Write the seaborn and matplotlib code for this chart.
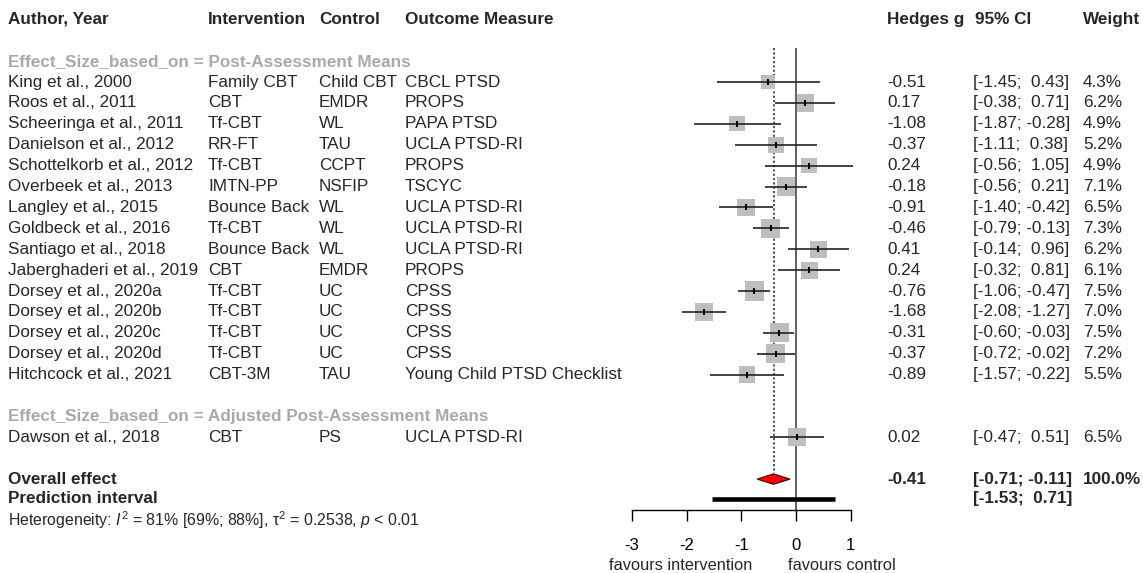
import numpy as np
import pandas as pd
import matplotlib
matplotlib.use("Agg")
import matplotlib.pyplot as plt
import seaborn as sns

# ---------------- data ----------------
authors = ["King et al., 2000", "Roos et al., 2011", "Scheeringa et al., 2011",
           "Danielson et al., 2012", "Schottelkorb et al., 2012", "Overbeek et al., 2013",
           "Langley et al., 2015", "Goldbeck et al., 2016", "Santiago et al., 2018",
           "Jaberghaderi et al., 2019", "Dorsey et al., 2020a", "Dorsey et al., 2020b",
           "Dorsey et al., 2020c", "Dorsey et al., 2020d", "Hitchcock et al., 2021",
           "Dawson et al., 2018"]
interventions = ["Family CBT", "CBT", "Tf-CBT", "RR-FT", "Tf-CBT", "IMTN-PP",
                 "Bounce Back", "Tf-CBT", "Bounce Back", "CBT", "Tf-CBT", "Tf-CBT",
                 "Tf-CBT", "Tf-CBT", "CBT-3M", "CBT"]
controls = ["Child CBT", "EMDR", "WL", "TAU", "CCPT", "NSFIP", "WL", "WL", "WL",
            "EMDR", "UC", "UC", "UC", "UC", "TAU", "PS"]
outcomes = ["CBCL PTSD", "PROPS", "PAPA PTSD", "UCLA PTSD-RI", "PROPS", "TSCYC",
            "UCLA PTSD-RI", "UCLA PTSD-RI", "UCLA PTSD-RI", "PROPS", "CPSS", "CPSS",
            "CPSS", "CPSS", "Young Child PTSD Checklist", "UCLA PTSD-RI"]
groups = [1] * 15 + [2]
hedges_g = [-0.51, 0.17, -1.08, -0.37, 0.24, -0.18, -0.91, -0.46, 0.41, 0.24,
            -0.76, -1.68, -0.31, -0.37, -0.89, 0.02]
ci_low = [-1.45, -0.38, -1.87, -1.11, -0.56, -0.56, -1.40, -0.79, -0.14, -0.32,
          -1.06, -2.08, -0.60, -0.72, -1.57, -0.47]
ci_high = [0.43, 0.71, -0.28, 0.38, 1.05, 0.21, -0.42, -0.13, 0.96, 0.81,
           -0.47, -1.27, -0.03, -0.02, -0.22, 0.51]
weights = [4.3, 6.2, 4.9, 5.2, 4.9, 7.1, 6.5, 7.3, 6.2, 6.1, 7.5, 7.0, 7.5, 7.2, 5.5, 6.5]

group_labels = ["Effect_Size_based_on = Post-Assessment Means",
                "Effect_Size_based_on = Adjusted Post-Assessment Means"]
overall_g = -0.41
overall_low = -0.71
overall_high = -0.11
overall_weight = "100.0%"
pred_low = -1.53
pred_high = 0.71
tick_values = [-3, -2, -1, 0, 1]
label_left = "favours intervention"
label_right = "favours control"
heterogeneity = r"Heterogeneity: $I^2$ = 81% [69%; 88%], τ$^2$ = 0.2538, $p$ < 0.01"
headers = ["Author, Year", "Intervention", "Control", "Outcome Measure",
           "Hedges g", "95% CI", "Weight"]

# ---------------- layout ----------------
W, H = 1143, 573
ROW0, DY = 82.0, 20.9          # pixel of first study row, row spacing
PX0, PPU = 796.0, 54.75        # pixel of x=0, pixels per unit
AX_BOTTOM_PX = 510.0


def row_of(px):
    return (px - ROW0) / DY


rows = []
r = 0
cur_group = groups[0]
group_rows = {1: -1}
for gi in groups:
    if gi != cur_group:
        r += 1
        group_rows[gi] = r
        r += 1
        cur_group = gi
    rows.append(r)
    r += 1
overall_row = r + 1
pred_row = overall_row + 0.95
het_row = pred_row + 1.0
header_row = -3

df = pd.DataFrame({"author": authors, "g": hedges_g, "lo": ci_low, "hi": ci_high,
                   "w": weights, "row": rows})

sns.set_theme(style="white")
plt.rcParams["font.family"] = ["Liberation Sans", "DejaVu Sans"]
plt.rcParams["mathtext.fontset"] = "custom"
plt.rcParams["mathtext.rm"] = "Liberation Sans"
plt.rcParams["mathtext.it"] = "Liberation Sans:italic"
plt.rcParams["mathtext.bf"] = "Liberation Sans:bold"

fig = plt.figure(figsize=(W / 100, H / 100), dpi=100)
fig.patch.set_facecolor("white")
ax = fig.add_axes([0, 1 - AX_BOTTOM_PX / H, 1, AX_BOTTOM_PX / H])
ax.set_facecolor("none")
ax.set_xlim(-PX0 / PPU, (W - PX0) / PPU)
ax.set_ylim(row_of(AX_BOTTOM_PX), row_of(0))

# squares (area proportional to weight)
k = 25.0
wmin, wmax = min(weights), max(weights)
sns.scatterplot(data=df, x="g", y="row", size="w", sizes=(k * wmin, k * wmax),
                size_norm=(wmin, wmax), marker="s", color="#BEBEBE", edgecolor="none",
                linewidth=0, legend=False, ax=ax, zorder=2)

# reference lines
ax.vlines(0, row_of(48), row_of(AX_BOTTOM_PX), color="#555555", lw=1.3, zorder=1)
ax.vlines(overall_g, row_of(48), overall_row - 0.27, color="#444444", lw=1.3,
          linestyles=(0, (1.2, 1.2)), zorder=1)

# CIs and points
ax.hlines(df["row"], df["lo"], df["hi"], color="#222222", lw=1.2, zorder=3)
ax.scatter(df["g"], df["row"], marker="|", s=20, color="black", linewidths=1.4, zorder=4)

# diamond
h = 0.25
ax.fill([overall_low, overall_g, overall_high, overall_g],
        [overall_row, overall_row - h, overall_row, overall_row + h],
        facecolor="red", edgecolor="#400000", lw=0.8, zorder=3)

# prediction interval
ax.hlines(pred_row, pred_low, pred_high, color="black", lw=3.3, zorder=3)

# axis
for s in ["left", "right", "top"]:
    ax.spines[s].set_visible(False)
ax.spines["bottom"].set_bounds(tick_values[0], tick_values[-1])
ax.spines["bottom"].set_color("black")
ax.spines["bottom"].set_linewidth(1.0)
ax.set_xticks(tick_values)
ax.set_xticklabels([str(t) for t in tick_values])
ax.tick_params(axis="x", bottom=True, direction="out", length=8, width=1.0,
               color="black", labelsize=12, pad=12, labelcolor="black")
ax.set_yticks([])
ax.set_xlabel("")
ax.set_ylabel("")
ax.grid(False)

fav_row = row_of(565)
ax.text(-2.10, fav_row, label_left, ha="center", va="center", fontsize=11.8)
ax.text(0.84, fav_row, label_right, ha="center", va="center", fontsize=11.8)

# text columns
T = ax.get_yaxis_transform()
FS = 12.3
col_px = [8, 208, 319, 405, 887, 975, 1083]


def put(px, rr, s, **kw):
    ax.text(px / W, rr, s, transform=T, ha="left", va="center", fontsize=kw.pop("fontsize", FS),
            clip_on=False, **kw)


for px, hd in zip(col_px, headers):
    put(px, header_row, hd, fontweight="bold")

for gi, lab in zip([1, 2], group_labels):
    put(8, group_rows[gi], lab, fontweight="bold", color="#A9A9A9")

for i in range(len(authors)):
    rr = rows[i]
    put(8, rr, authors[i])
    put(208, rr, interventions[i])
    put(319, rr, controls[i])
    put(405, rr, outcomes[i])
    put(887, rr, f"{hedges_g[i]:.2f}")
    put(973, rr, f"[{ci_low[i]:5.2f}; {ci_high[i]:5.2f}]")
    put(1083, rr, f"{weights[i]:.1f}%")

put(8, overall_row, "Overall effect", fontweight="bold")
put(887, overall_row, f"{overall_g:.2f}", fontweight="bold")
put(973, overall_row, f"[{overall_low:5.2f}; {overall_high:5.2f}]", fontweight="bold")
put(1083, overall_row, overall_weight, fontweight="bold")
put(8, pred_row, "Prediction interval", fontweight="bold")
put(973, pred_row, f"[{pred_low:5.2f}; {pred_high:5.2f}]", fontweight="bold")
put(8, het_row, heterogeneity, fontsize=11.4)

fig.savefig("out.png", dpi=100, facecolor="white")
